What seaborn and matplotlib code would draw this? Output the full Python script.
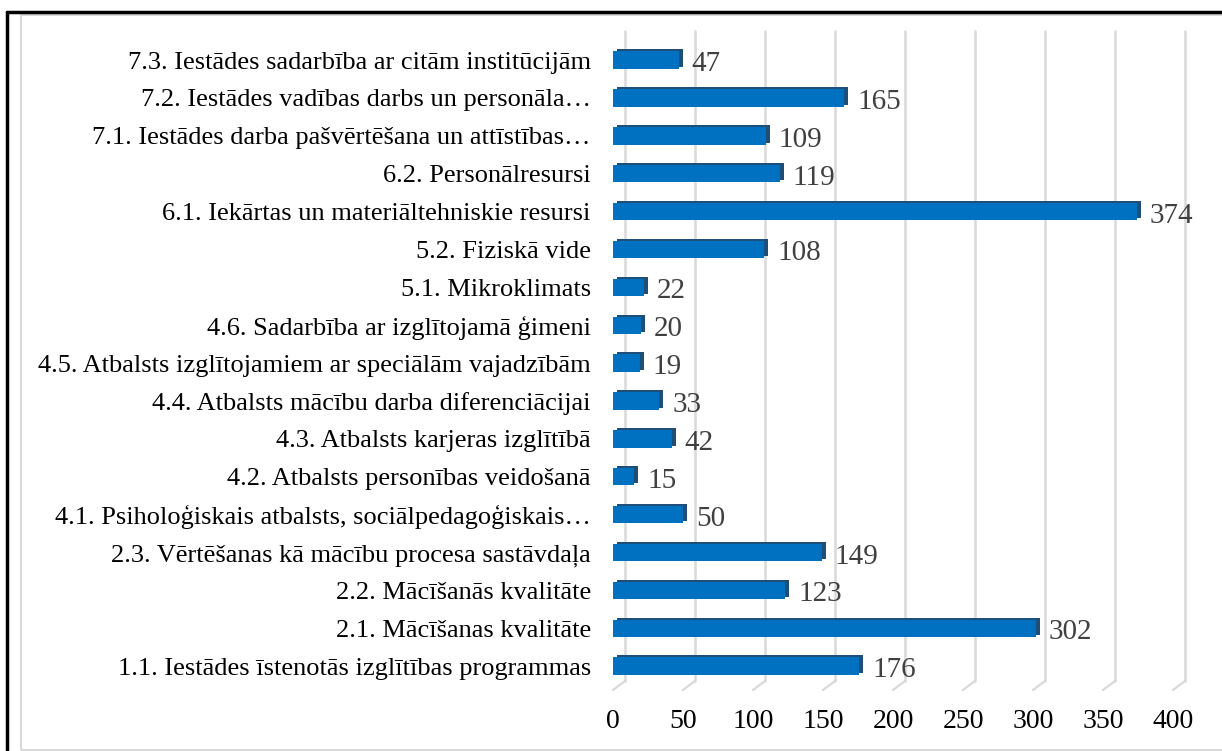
import pandas as pd
import matplotlib.pyplot as plt
import seaborn as sns
from matplotlib.transforms import ScaledTranslation
from matplotlib.lines import Line2D
from matplotlib.patches import Rectangle

# dati (no augšas uz leju)
kategorijas = [
    "7.3. Iestādes sadarbība ar citām institūcijām",
    "7.2. Iestādes vadības darbs un personāla…",
    "7.1. Iestādes darba pašvērtēšana un attīstības…",
    "6.2. Personālresursi",
    "6.1. Iekārtas un materiāltehniskie resursi",
    "5.2. Fiziskā vide",
    "5.1. Mikroklimats",
    "4.6. Sadarbība ar izglītojamā ģimeni",
    "4.5. Atbalsts izglītojamiem ar speciālām vajadzībām",
    "4.4. Atbalsts mācību darba diferenciācijai",
    "4.3. Atbalsts karjeras izglītībā",
    "4.2. Atbalsts personības veidošanā",
    "4.1. Psiholoģiskais atbalsts, sociālpedagoģiskais…",
    "2.3. Vērtēšanas kā mācību procesa sastāvdaļa",
    "2.2. Mācīšanās kvalitāte",
    "2.1. Mācīšanas kvalitāte",
    "1.1. Iestādes īstenotās izglītības programmas",
]
skaits = [47, 165, 109, 119, 374, 108, 22, 20, 19, 33, 42, 15, 50, 149, 123, 302, 176]
x_ticks = [0, 50, 100, 150, 200, 250, 300, 350, 400]

df = pd.DataFrame({"tema": kategorijas, "skaits": skaits})

sns.set_style("white")
plt.rcParams["font.family"] = ["Liberation Serif", "DejaVu Serif"]

fig = plt.figure(figsize=(12.22, 7.51), dpi=100)
ax = fig.add_axes([613 / 1222, 61 / 751, 560 / 1222, 650 / 751])

px = lambda dx, dy: ScaledTranslation(dx / 100, dy / 100, fig.dpi_scale_trans)

# ēnas stabiņi (3D efekts)
sns.barplot(data=df, y="tema", x="skaits", color="#1f4e79", saturation=1,
            width=0.46, linewidth=0, ax=ax, zorder=2)
for p in ax.patches:
    p.set_transform(ax.transData + px(4, 2))

sns.barplot(data=df, y="tema", x="skaits", color="#0070c0", saturation=1,
            width=0.46, linewidth=0, ax=ax, zorder=3)

# režģa līnijas aizmugurējā plaknē + grīdas diagonāles
for v in x_ticks:
    ax.plot([v, v], [0, 1], transform=ax.get_xaxis_transform() + px(12, 9),
            color="#d9d9d9", lw=1.8, zorder=0, clip_on=False)
    ax.annotate("", xy=(v, 0), xycoords=ax.get_xaxis_transform(),
                xytext=(12, 9), textcoords="offset pixels",
                arrowprops=dict(arrowstyle="-", color="#d9d9d9", lw=1.6,
                                shrinkA=0, shrinkB=0), zorder=0)

# vērtības
for i, v in enumerate(skaits):
    ax.annotate(str(v), xy=(v, i), xytext=(13, -4), textcoords="offset pixels",
                ha="left", va="center", fontsize=21, color="#404040")

ax.set_xlim(0, 400)
ax.set_ylim(16.63, -0.53)
ax.set_xticks(x_ticks)
ax.set_xlabel("")
ax.set_ylabel("")
ax.tick_params(axis="x", length=0, pad=14, labelsize=20, colors="black")
ax.tick_params(axis="y", length=0, pad=16, labelsize=19, colors="black")
for s in ax.spines.values():
    s.set_visible(False)
ax.patch.set_alpha(0)

# rāmji
fig.add_artist(Rectangle((21 / 1222, 1 / 751), 1.1, 735 / 751, transform=fig.transFigure,
                         fill=False, edgecolor="#d9d9d9", lw=1.5))
fig.add_artist(Line2D([7 / 1222, 7 / 1222], [0, 739 / 751], transform=fig.transFigure,
                      color="black", lw=2.5))
fig.add_artist(Line2D([7 / 1222, 1], [739 / 751, 739 / 751], transform=fig.transFigure,
                      color="black", lw=2.5))

fig.savefig("out.png", dpi=100)
